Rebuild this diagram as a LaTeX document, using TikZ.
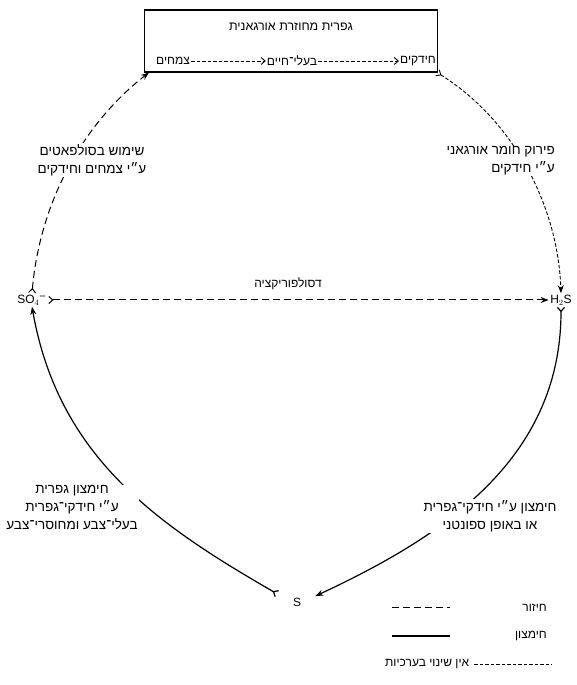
\documentclass[tikz,border=0pt]{standalone}
\usepackage{fontspec}
\setmainfont{Liberation Sans}
\newfontfamily\hebfont[Script=Hebrew]{Liberation Sans}
\TeXXeTstate=1
\usetikzlibrary{arrows.meta}
\newcommand{\heb}[1]{\beginR #1\endR}

\begin{document}
\begin{tikzpicture}[x=1pt,y=1pt,
  txt/.style={font=\hebfont\fontsize{12}{17}\selectfont,inner sep=1pt},
  lbl/.style={font=\hebfont\fontsize{13.5}{18}\selectfont,inner sep=1pt,fill=white,align=center},
  chem/.style={font=\fontsize{12}{14}\selectfont,inner sep=1.5pt},
  redu/.style={dash pattern=on 7pt off 4pt,line width=1pt},
  oxid/.style={line width=1.2pt},
  same/.style={dash pattern=on 3.5pt off 2pt,line width=0.9pt},
  flow/.style={{Straight Barb[reversed,length=4pt,width=7pt]}-{Stealth[length=8pt,width=6pt]}}]
\useasboundingbox (0,0) rectangle (577,685);

% organic sulfur box
\node[draw,line width=1.1pt,minimum width=293pt,minimum height=62pt] (box) at (291,644) {};
\node[txt,font=\hebfont\fontsize{12.5}{17}\selectfont] (title) at (291,658) {\heb{גפרית מחוזרת אורגאנית}};
\node[txt] (plants) at (173,624) {\heb{צמחים}};
\node[txt] (animals) at (292,624) {\heb{בעלי־חיים}};
\node[txt] (bact) at (418,624) {\heb{חידקים}};
\draw[same,-{Straight Barb[length=4pt,width=7pt]}] (plants) -- (animals);
\draw[same,-{Straight Barb[length=4pt,width=7pt]}] (animals) -- (bact);

% compounds
\node[chem] (so4) at (32,385) {SO$_4{}^{=}$};
\node[chem] (h2s) at (561,385) {H$_2$S};
\node[chem] (s) at (297,83) {S};

% cycle
\draw[redu,flow] (so4.north) to[out=85,in=218,looseness=0.9] ([xshift=5pt]box.south west);
\draw[same,flow] ([xshift=-1pt]box.south east) to[out=-32,in=92,looseness=0.9] (h2s.north);
\draw[oxid,flow,shorten >=14pt] (h2s.south) to[out=-90,in=25] (s.east);
\draw[oxid,flow,shorten <=16pt] (s.west) to[out=150,in=-80] (so4.south);
\draw[redu,flow] (so4.east) -- (h2s.west);

% labels
\node[lbl] (use) at (92,525) {\heb{שימוש בסולפאטים}\\ \heb{ע״י צמחים וחידקים}};
\node[lbl,align=right,anchor=east] (decomp) at (556,524) {\heb{פירוק חומר אורגאני}\\ \heb{ע״י חידקים}};
\node[txt,fill=white] (desulf) at (288,401) {\heb{דסולפוריקציה}};
\node[lbl] (oxs) at (72,177) {\heb{חימצון גפרית}\\ \heb{ע״י חידקי־גפרית}\\ \heb{בעלי־צבע ומחוסרי־צבע}};
\node[lbl] (oxh) at (490,169) {\heb{חימצון ע״י חידקי־גפרית}\\ \heb{או באופן ספונטני}};

% legend
\node[txt,anchor=east] (lg1) at (548,77) {\heb{חיזור}};
\node[txt,anchor=east] (lg2) at (548,49) {\heb{חימצון}};
\node[txt,anchor=west] (lg3) at (384,21) {\heb{אין שינוי בערכיות}};
\coordinate (k1) at (392,77);
\coordinate (k2) at (392,49);
\coordinate (k3) at (552,21);
\draw[redu] (k1) -- ++(58,0);
\draw[oxid] (k2) -- ++(58,0);
\draw[same,shorten <=4pt] (lg3) -- (k3);
\end{tikzpicture}
\end{document}
